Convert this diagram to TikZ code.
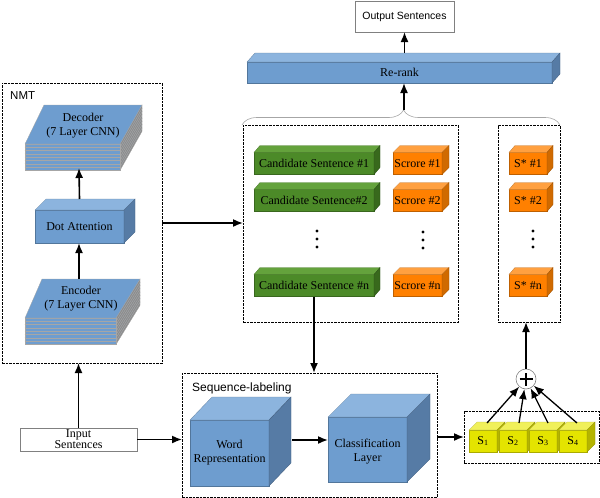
\documentclass[tikz,border=0pt]{standalone}
\usepackage{fontspec}
\setmainfont{Liberation Serif}
\setsansfont{Liberation Sans}
\usetikzlibrary{arrows.meta,decorations.pathreplacing,calc}
\definecolor{bF}{RGB}{110,157,207}
\definecolor{bT}{RGB}{140,180,222}
\definecolor{bS}{RGB}{86,123,165}
\definecolor{gF}{RGB}{76,138,40}
\definecolor{gT}{RGB}{100,162,60}
\definecolor{gS}{RGB}{56,105,28}
\definecolor{oF}{RGB}{255,128,0}
\definecolor{oT}{RGB}{255,160,64}
\definecolor{oS}{RGB}{208,106,0}
\definecolor{yF}{RGB}{228,228,0}
\definecolor{yT}{RGB}{240,240,90}
\definecolor{yS}{RGB}{180,180,0}
\definecolor{slabS}{RGB}{140,140,140}
\newcommand{\cubefaces}[5]{%
  \filldraw[fill=#4, draw=#4!75!black, line width=0.3pt] (#1.north west) -- ++(#2pt,#3pt) -- ([shift={(#2pt,#3pt)}]#1.north east) -- (#1.north east) -- cycle;
  \filldraw[fill=#5, draw=#5!75!black, line width=0.3pt] (#1.north east) -- ++(#2pt,#3pt) -- ([shift={(#2pt,#3pt)}]#1.south east) -- (#1.south east) -- cycle;
}
% slab: FLx FRx BRx BLx frontY backY
\newcommand{\slab}[6]{%
  \foreach \k in {7,6,...,0}{%
    \filldraw[fill=slabS, draw=gray!70, line width=0.3pt] (#2,{#5+3.3*\k}) -- (#3,{#6+3.3*\k}) -- (#3,{#6+3.3*\k+3.3}) -- (#2,{#5+3.3*\k+3.3}) -- cycle;
    \filldraw[fill=bF, draw=gray!70, line width=0.3pt] (#1,{#5+3.3*\k}) -- (#2,{#5+3.3*\k}) -- (#2,{#5+3.3*\k+3.3}) -- (#1,{#5+3.3*\k+3.3}) -- cycle;
    \filldraw[fill=bF, draw=gray!70, line width=0.3pt] (#1,{#5+3.3*\k}) -- (#2,{#5+3.3*\k}) -- (#3,{#6+3.3*\k}) -- (#4,{#6+3.3*\k}) -- cycle;
  }%
}
\tikzset{
  lbl/.style={font=\fontsize{12}{14}\selectfont, align=center, inner sep=0pt},
  face/.style={inner sep=0pt, outer sep=0pt, line width=0.3pt, font=\fontsize{12}{14}\selectfont, align=center},
  bluecube/.style={face, fill=bF, draw=bF!75!black},
  greencube/.style={face, fill=gF, draw=gF!75!black},
  orangecube/.style={face, fill=oF, draw=oF!75!black},
  yellowcube/.style={face, fill=yF, draw=yF!75!black},
  dbox/.style={draw, dash pattern=on 2.5pt off 1pt, line width=0.8pt, inner sep=0pt, outer sep=0pt},
  plainbox/.style={draw=gray, line width=0.6pt, fill=white, inner sep=0pt, outer sep=0pt},
  arr/.style={-{Latex[length=10pt,width=8pt]}, line width=1.6pt}
}
\begin{document}
\begin{tikzpicture}[x=1pt,y=-1pt]
\useasboundingbox (0,0) rectangle (600,498);

% top
\node[plainbox, minimum width=99pt, minimum height=31pt, font=\sffamily\fontsize{10.5}{12}\selectfont] (out) at (404.5,16.5) {Output Sentences};
\node[bluecube, minimum width=305pt, minimum height=21pt] (rerank) at (399.5,72.5) {};
\cubefaces{rerank}{8}{9}{bT}{bS}
\node[lbl] at (rerank) {Re-rank};
\coordinate (rrtop) at ([yshift=9pt]rerank.north);

% brace
\draw[gray!70, line width=0.6pt, decorate, decoration={brace, amplitude=15pt, aspect=0.508}] (242,125) -- (560,125);
\coordinate (bracetip) at (404,110);

% NMT
\node[dbox, minimum width=160pt, minimum height=280pt] (nmt) at (82,223) {};
\node[anchor=west, inner sep=0pt, font=\sffamily\fontsize{11.5}{13}\selectfont] (nmtlabel) at (10,96) {NMT};
\slab{25}{120}{142}{44}{144}{105}
\node[lbl] (dec) at (83,126) {Decoder\\(7 Layer CNN)};
\coordinate (decbot) at (79,168);
\node[bluecube, minimum width=89pt, minimum height=33pt] (dot) at (79.5,226.5) {};
\cubefaces{dot}{11}{11}{bT}{bS}
\node[lbl] at (dot) {Dot Attention};
\slab{25}{116}{140}{42}{318}{279}
\node[lbl] (enc) at (81,299) {Encoder\\(7 Layer CNN)};
\coordinate (enctop) at (79,279);

% candidate box
\node[dbox, minimum width=215pt, minimum height=197pt] (candbox) at (350.5,223.5) {};
\node[greencube, minimum width=120pt, minimum height=22pt] (c1) at (314,163.5) {};
\cubefaces{c1}{6}{7}{gT}{gS}
\node[lbl] at (c1) {Candidate Sentence \#1};
\node[greencube, minimum width=120pt, minimum height=22pt] (c2) at (314,200.5) {};
\cubefaces{c2}{6}{7}{gT}{gS}
\node[lbl] at (c2) {Candidate Sentence\#2};
\node[greencube, minimum width=120pt, minimum height=22pt] (cn) at (314,285.5) {};
\cubefaces{cn}{6}{7}{gT}{gS}
\node[lbl] at (cn) {Candidate Sentence \#n};
\node[orangecube, minimum width=49pt, minimum height=22pt] (s1) at (417.5,163.5) {};
\cubefaces{s1}{7}{7}{oT}{oS}
\node[lbl] at (s1) {Scrore \#1};
\node[orangecube, minimum width=49pt, minimum height=22pt] (s2) at (417.5,200.5) {};
\cubefaces{s2}{7}{7}{oT}{oS}
\node[lbl] at (s2) {Scrore \#2};
\node[orangecube, minimum width=49pt, minimum height=22pt] (sn) at (417.5,285.5) {};
\cubefaces{sn}{7}{7}{oT}{oS}
\node[lbl] at (sn) {Scrore \#n};
\foreach \yy in {231,239,247}{
  \fill (317,\yy) circle (1.6pt);
  \fill (423,\yy+1) circle (1.6pt);
}

% S* box
\node[dbox, minimum width=62pt, minimum height=197pt] (sstarbox) at (529,223.5) {};
\node[orangecube, minimum width=38pt, minimum height=22pt] (ss1) at (528,163.5) {};
\cubefaces{ss1}{6}{7}{oT}{oS}
\node[lbl] at (ss1) {S* \#1};
\node[orangecube, minimum width=38pt, minimum height=22pt] (ss2) at (528,200.5) {};
\cubefaces{ss2}{6}{7}{oT}{oS}
\node[lbl] at (ss2) {S* \#2};
\node[orangecube, minimum width=38pt, minimum height=22pt] (ssn) at (528,285.5) {};
\cubefaces{ssn}{6}{7}{oT}{oS}
\node[lbl] at (ssn) {S* \#n};
\foreach \yy in {231,239,247}{
  \fill (533,\yy) circle (1.6pt);
}

% input
\node[plainbox, minimum width=117pt, minimum height=23pt, lbl, font=\fontsize{12}{11}\selectfont] (input) at (78.5,439.5) {Input\\Sentences};

% sequence labeling
\node[dbox, minimum width=255pt, minimum height=124pt] (seqbox) at (309.5,435) {};
\node[anchor=west, inner sep=0pt, font=\sffamily\fontsize{12}{14}\selectfont] (seqlabel) at (192,388) {Sequence-labeling};
\node[bluecube, minimum width=79pt, minimum height=66pt] (word) at (229.5,453) {};
\cubefaces{word}{22}{23}{bT}{bS}
\node[lbl] at (word) {Word\\Representation};
\node[bluecube, minimum width=79pt, minimum height=65pt] (class) at (367.5,449.5) {};
\cubefaces{class}{23}{23}{bT}{bS}
\node[lbl] at ([yshift=-2.5pt]class.center) {Classification\\Layer};

% S box
\node[dbox, minimum width=135pt, minimum height=52pt] (sbox) at (531.5,437) {};
\node[yellowcube, minimum width=28pt, minimum height=22pt] (y1) at (483,441) {};
\cubefaces{y1}{8}{8}{yT}{yS}
\node[lbl] at (y1) {S\textsubscript{1}};
\node[yellowcube, minimum width=28pt, minimum height=22pt] (y2) at (513,441) {};
\cubefaces{y2}{8}{8}{yT}{yS}
\node[lbl] at (y2) {S\textsubscript{2}};
\node[yellowcube, minimum width=28pt, minimum height=22pt] (y3) at (543,441) {};
\cubefaces{y3}{8}{8}{yT}{yS}
\node[lbl] at (y3) {S\textsubscript{3}};
\node[yellowcube, minimum width=28pt, minimum height=22pt] (y4) at (573,441) {};
\cubefaces{y4}{8}{8}{yT}{yS}
\node[lbl] at (y4) {S\textsubscript{4}};

\node[circle, draw=gray, fill=white, minimum size=20pt, inner sep=0pt, line width=0.6pt] (plus) at (526,379) {};
\draw[line width=2.2pt] ([xshift=-6.5pt]plus.center) -- ([xshift=6.5pt]plus.center);
\draw[line width=2.2pt] ([yshift=-6.5pt]plus.center) -- ([yshift=6.5pt]plus.center);

% connectors
\draw[arr] (rrtop -| out.south) -- (out.south);
\draw[arr] (bracetip) -- (bracetip |- rerank.south);
\draw[arr] (enctop) -- (enctop |- dot.south);
\draw[arr] ([yshift=11pt]dot.north) -- (decbot);
\draw[arr] (nmt.east) -- (nmt.east -| candbox.west);
\draw[arr] (input.north) -- (input.north |- nmt.south);
\draw[arr] (input.east) -- (input.east -| seqbox.west);
\draw[arr] (cn.south) -- (cn.south |- seqbox.north);
\coordinate (wa) at ([shift={(23pt,13pt)}]word.east);
\draw[arr] (wa) -- (wa -| class.west);
\draw[arr] (sbox.west -| seqbox.east) -- (sbox.west);
\foreach \n/\dx in {y1/4,y2/6,y3/5,y4/4}{
  \draw[arr, line width=1.3pt] ([shift={(\dx pt,7pt)}]\n.north) -- (plus);
}
\draw[arr] (plus.north) -- (plus.north |- sstarbox.south);
\end{tikzpicture}
\end{document}
